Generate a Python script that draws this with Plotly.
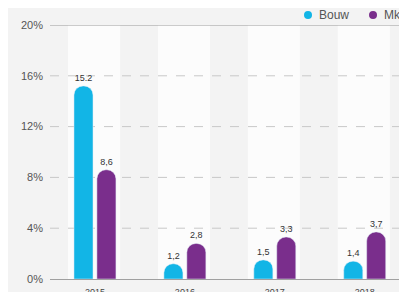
import plotly.graph_objects as go

years = ["2015", "2016", "2017", "2018"]
bouw = [15.2, 1.2, 1.5, 1.4]
mkb = [8.6, 2.8, 3.3, 3.7]
bouw_labels = ["15.2", "1,2", "1,5", "1,4"]
mkb_labels = ["8,6", "2,8", "3,3", "3,7"]
y_ticks = [0, 4, 8, 12, 16, 20]
y_ticklabels = ["0%", "4%", "8%", "12%", "16%", "20%"]
series_names = ["Bouw", "Mkb"]

c_bouw = "#12b5e6"
c_mkb = "#7a2e8c"
colors = [c_bouw, c_mkb]

fig = go.Figure()
fig.add_trace(go.Bar(x=years, y=bouw, name=series_names[0], marker_color=c_bouw,
                     text=bouw_labels, textposition="outside", cliponaxis=False,
                     textfont=dict(size=9, color="#333"), showlegend=False))
fig.add_trace(go.Bar(x=years, y=mkb, name=series_names[1], marker_color=c_mkb,
                     text=mkb_labels, textposition="outside", cliponaxis=False,
                     textfont=dict(size=9, color="#333"), showlegend=False))

shapes = []
annotations = []
# soft white background bands behind each category
for i in range(len(years)):
    shapes.append(dict(type="rect", xref="x", yref="paper", x0=i - 0.3, x1=i + 0.28,
                       y0=0, y1=1, fillcolor="rgba(255,255,255,0.7)", line_width=0,
                       layer="below"))
# dashed grid lines
for t in y_ticks[1:-1]:
    shapes.append(dict(type="line", xref="paper", yref="y", x0=0, x1=1, y0=t, y1=t,
                       line=dict(color="#c8c8c8", width=1, dash="dash"), layer="below"))
shapes.append(dict(type="line", xref="paper", yref="y", x0=0, x1=1, y0=20, y1=20,
                   line=dict(color="#9a9a9a", width=1), layer="below"))

# custom legend (circle + label) at top right
legend_x = [0.7227, 0.9048]   # paper positions of the legend circles
legend_y = 1.039
for name, col, lx in zip(series_names, colors, legend_x):
    shapes.append(dict(type="circle", xref="paper", yref="paper",
                       xsizemode="pixel", ysizemode="pixel",
                       xanchor=lx, yanchor=legend_y,
                       x0=-4, x1=4, y0=-4, y1=4,
                       fillcolor=col, line_width=0))
    annotations.append(dict(text=name, xref="paper", yref="paper", x=lx, y=legend_y,
                            xanchor="left", yanchor="middle", xshift=9, showarrow=False,
                            font=dict(size=12, color="#555")))

fig.update_layout(
    width=399, height=284,
    margin=dict(l=42, r=0, t=17, b=13, autoexpand=False),
    paper_bgcolor="#f3f3f3", plot_bgcolor="#f3f3f3",
    barmode="group", bargap=0.49, bargroupgap=0.17, barcornerradius=9,
    font=dict(family="Liberation Sans, Arial, sans-serif", color="#555"),
    shapes=shapes, annotations=annotations, showlegend=False,
    xaxis=dict(range=[-0.5, 3.47], showgrid=False, showline=True, linecolor="#a0a0a0",
               linewidth=1, ticks="", tickfont=dict(size=9, color="#444"), automargin=False,
               zeroline=False, fixedrange=True, ticklabelstandoff=4),
    yaxis=dict(range=[0, 20], tickvals=y_ticks, ticktext=y_ticklabels, showgrid=False,
               zeroline=False, tickfont=dict(size=11, color="#555"), ticklabelstandoff=6,
               automargin=False),
)

fig.write_html("out.html")
